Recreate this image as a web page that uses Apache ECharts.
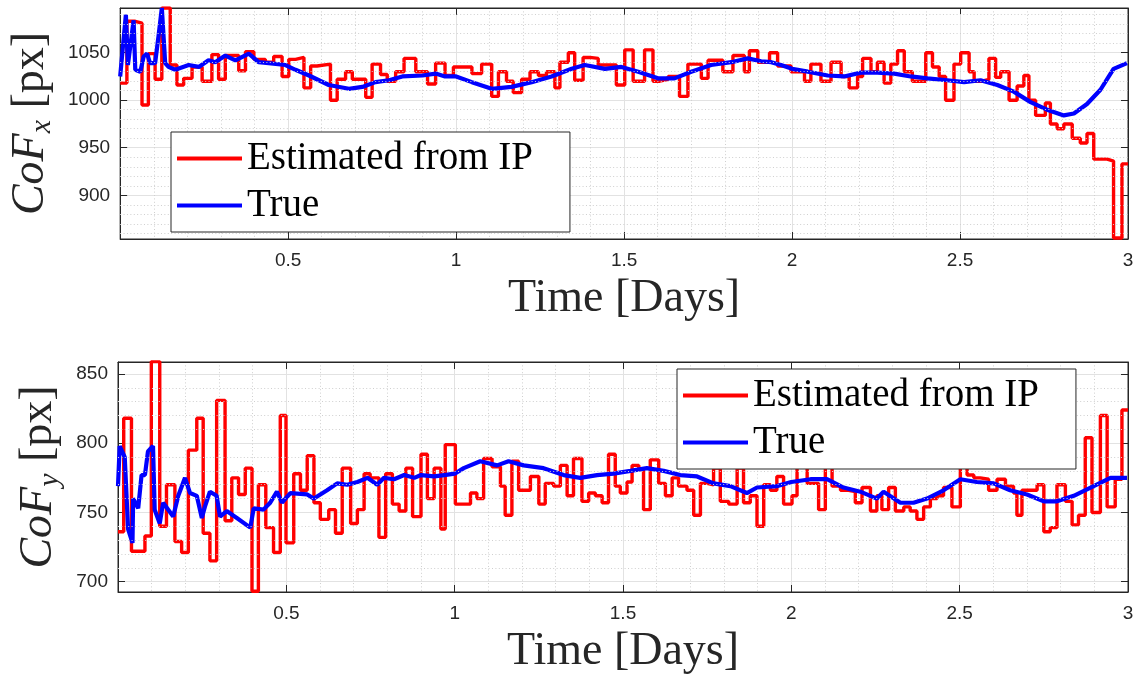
<!DOCTYPE html>
<html><head><meta charset="utf-8">
<script src="https://cdn.jsdelivr.net/npm/echarts@6/dist/echarts.min.js"></script>
<style>html,body{margin:0;padding:0;background:#fff}#c{width:1138px;height:677px}</style>
</head><body><div id="c"></div>
<script>
// ---------- data (days, px) ----------
const seriesNames = ['Estimated from IP', 'True'];
const xTickLabels = ['0.5', '1', '1.5', '2', '2.5', '3'];
const topYMinor = [860,870,880,890,910,920,930,940,960,970,980,990,1010,1020,1030,1040,1060,1070,1080,1090];
const botYMinor = [710,720,730,740,760,770,780,790,810,820,830,840];

// CoF_x estimated from IP (step: start time of each hold, value)
const topRed = [[0.000,1018],[0.020,1083],[0.045,1081],[0.065,995],[0.084,1049],[0.104,1022],[0.124,1097],[0.149,1037],[0.169,1016],[0.189,1023],[0.214,1035],[0.244,1020],[0.273,1048],[0.293,1022],[0.313,1047],[0.353,1031],[0.373,1051],[0.398,1043],[0.432,1040],[0.457,1046],[0.482,1025],[0.502,1043],[0.522,1045],[0.547,1013],[0.567,1036],[0.586,1038],[0.626,1000],[0.646,1022],[0.671,1030],[0.691,1022],[0.731,1003],[0.750,1038],[0.775,1027],[0.795,1020],[0.820,1030],[0.845,1044],[0.880,1030],[0.915,1017],[0.939,1039],[0.967,1026],[0.992,1035],[1.047,1028],[1.076,1038],[1.106,1004],[1.126,1030],[1.150,1020],[1.170,1008],[1.195,1022],[1.220,1030],[1.245,1026],[1.269,1030],[1.294,1013],[1.309,1040],[1.334,1050],[1.353,1021],[1.378,1045],[1.398,1044],[1.423,1037],[1.477,1016],[1.502,1053],[1.527,1020],[1.561,1053],[1.586,1020],[1.606,1022],[1.631,1025],[1.665,1004],[1.690,1038],[1.730,1023],[1.750,1042],[1.794,1030],[1.824,1047],[1.858,1030],[1.873,1052],[1.898,1040],[1.933,1050],[1.957,1036],[1.997,1030],[2.037,1020],[2.056,1038],[2.086,1020],[2.116,1040],[2.146,1025],[2.170,1013],[2.195,1025],[2.210,1044],[2.235,1030],[2.254,1040],[2.274,1018],[2.294,1038],[2.314,1052],[2.334,1030],[2.358,1020],[2.398,1050],[2.418,1035],[2.438,1025],[2.457,1000],[2.482,1038],[2.502,1050],[2.527,1030],[2.542,1020],[2.566,1022],[2.586,1044],[2.606,1024],[2.621,1030],[2.646,1000],[2.670,1015],[2.690,1026],[2.705,1000],[2.725,984],[2.754,997],[2.769,975],[2.789,970],[2.809,975],[2.834,960],[2.858,955],[2.878,965],[2.898,938],[2.938,936],[2.957,855],[2.982,933],[3.000,933]];

// CoF_x true
const topBlue = [[0.000,1025],[0.017,1090],[0.023,1037],[0.040,1084],[0.045,1032],[0.060,1030],[0.070,1046],[0.080,1049],[0.089,1039],[0.104,1039],[0.114,1067],[0.124,1097],[0.134,1039],[0.144,1035],[0.164,1032],[0.204,1037],[0.234,1035],[0.263,1042],[0.283,1040],[0.313,1047],[0.343,1042],[0.383,1049],[0.412,1040],[0.442,1039],[0.492,1037],[0.522,1032],[0.562,1026],[0.621,1016],[0.681,1012],[0.721,1014],[0.760,1019],[0.800,1021],[0.840,1025],[0.900,1026],[0.939,1028],[0.967,1025],[1.000,1025],[1.047,1019],[1.106,1012],[1.165,1014],[1.225,1019],[1.284,1025],[1.344,1033],[1.383,1037],[1.443,1033],[1.492,1035],[1.542,1030],[1.601,1023],[1.650,1023],[1.700,1030],[1.759,1037],[1.819,1040],[1.868,1044],[1.908,1041],[1.938,1040],[1.967,1037],[2.000,1033],[2.047,1030],[2.106,1026],[2.155,1025],[2.205,1029],[2.254,1029],[2.304,1028],[2.353,1025],[2.403,1023],[2.462,1021],[2.512,1019],[2.561,1021],[2.611,1016],[2.660,1009],[2.710,998],[2.759,990],[2.809,984],[2.839,986],[2.878,996],[2.918,1011],[2.957,1033],[2.997,1039]];

// CoF_y estimated from IP
const botRed = [[0.000,736],[0.017,818],[0.040,722],[0.080,733],[0.099,859],[0.124,740],[0.144,770],[0.169,729],[0.189,721],[0.209,795],[0.234,818],[0.253,735],[0.273,715],[0.293,831],[0.318,744],[0.338,775],[0.358,763],[0.378,782],[0.398,693],[0.417,770],[0.439,739],[0.462,721],[0.482,820],[0.499,728],[0.522,778],[0.542,766],[0.562,791],[0.582,757],[0.601,745],[0.626,752],[0.646,735],[0.666,782],[0.691,742],[0.711,752],[0.731,778],[0.749,775],[0.775,732],[0.795,778],[0.815,756],[0.835,751],[0.855,782],[0.875,747],[0.900,792],[0.919,760],[0.939,782],[0.959,738],[0.972,799],[1.002,756],[1.047,764],[1.066,760],[1.086,789],[1.111,783],[1.136,769],[1.150,748],[1.170,787],[1.190,766],[1.225,776],[1.250,756],[1.269,771],[1.294,769],[1.314,784],[1.334,762],[1.353,789],[1.378,758],[1.398,764],[1.418,762],[1.438,757],[1.457,792],[1.477,769],[1.492,764],[1.512,772],[1.527,784],[1.547,781],[1.561,752],[1.581,788],[1.606,771],[1.626,762],[1.646,775],[1.665,769],[1.690,766],[1.710,748],[1.730,771],[1.750,770],[1.769,782],[1.789,758],[1.814,756],[1.839,782],[1.858,757],[1.878,762],[1.898,740],[1.918,770],[1.938,766],[1.957,776],[1.977,756],[2.002,762],[2.017,795],[2.032,790],[2.047,771],[2.081,752],[2.101,795],[2.121,769],[2.146,766],[2.170,765],[2.190,757],[2.210,768],[2.235,751],[2.254,762],[2.269,752],[2.289,768],[2.309,751],[2.334,754],[2.353,751],[2.373,745],[2.393,754],[2.413,760],[2.433,762],[2.452,768],[2.477,754],[2.502,795],[2.522,777],[2.542,775],[2.561,774],[2.586,766],[2.611,774],[2.636,769],[2.660,764],[2.670,748],[2.685,766],[2.730,770],[2.750,736],[2.769,739],[2.789,770],[2.814,758],[2.834,741],[2.853,748],[2.873,804],[2.893,750],[2.918,820],[2.938,754],[2.962,774],[2.982,824],[3.000,824]];

// CoF_y true
const botBlue = [[0.000,769],[0.005,798],[0.020,790],[0.030,738],[0.043,728],[0.045,760],[0.060,753],[0.070,777],[0.080,777],[0.089,794],[0.104,798],[0.109,752],[0.124,742],[0.134,757],[0.164,747],[0.179,762],[0.199,775],[0.214,764],[0.234,762],[0.249,746],[0.258,754],[0.273,765],[0.293,762],[0.303,747],[0.323,751],[0.353,746],[0.393,739],[0.403,753],[0.432,752],[0.452,757],[0.472,765],[0.487,757],[0.512,764],[0.562,763],[0.582,760],[0.621,766],[0.651,771],[0.681,770],[0.711,772],[0.741,775],[0.770,770],[0.790,775],[0.820,774],[0.850,777],[0.880,775],[0.900,777],[0.939,776],[0.969,777],[1.000,778],[1.027,782],[1.076,787],[1.126,784],[1.160,787],[1.205,784],[1.264,782],[1.324,777],[1.373,775],[1.423,777],[1.472,778],[1.522,780],[1.571,782],[1.621,780],[1.670,777],[1.720,776],[1.769,771],[1.819,769],[1.868,764],[1.898,768],[1.957,769],[2.000,772],[2.057,774],[2.106,774],[2.155,768],[2.205,765],[2.254,760],[2.274,765],[2.324,757],[2.363,757],[2.403,760],[2.452,766],[2.502,774],[2.551,772],[2.601,771],[2.650,766],[2.700,763],[2.750,758],[2.789,758],[2.839,762],[2.898,769],[2.948,775],[2.997,775]];

// ---------- chart ----------
const DARK = '#262626';
const SERIF = '"Liberation Serif", "Times New Roman", serif';
const SANS = '"Liberation Sans", Arial, Helvetica, sans-serif';
const MINOR = {color: '#cfcfcf', width: 1, type: [1, 2.4]};
const chart = echarts.init(document.getElementById('c'), null, {renderer: 'canvas'});

const grids = [
  {left: 118, top: 8, width: 1010, height: 231},
  {left: 118, top: 362, width: 1010, height: 230}
];
const yRanges = [{min: 854, max: 1097, split: 5}, {min: 692.5, max: 858.7, split: 3}];
const yNames = ['{i|CoF}{s|x}{r| [px]}', '{i|CoF}{s|y}{r| [px]}'];
const yNameGaps = [55, 42];
const minors = [topYMinor, botYMinor];

function xAxes(g) {
  const base = {gridIndex: g, type: 'value', min: 0, max: 3, interval: 0.5};
  return [
    Object.assign({}, base, {
      position: 'bottom',
      axisLine: {show: true, onZero: false, lineStyle: {color: DARK, width: 1}},
      axisTick: {show: true, inside: true, length: 7, lineStyle: {color: DARK}},
      axisLabel: {show: true, margin: 12, fontSize: 19, color: DARK, fontFamily: SANS,
        formatter: function (v) { const s = xTickLabels.find(t => Math.abs(parseFloat(t) - v) < 1e-6); return s || ''; }},
      splitLine: {show: true, lineStyle: {color: '#e2e2e2', width: 1}},
      minorTick: {show: false, splitNumber: 5},
      minorSplitLine: {show: true, lineStyle: MINOR},
      name: 'Time [Days]', nameLocation: 'middle', nameGap: 37,
      nameTextStyle: {fontFamily: SERIF, fontSize: 46, color: DARK}
    }),
    Object.assign({}, base, {
      position: 'top',
      axisLine: {show: true, onZero: false, lineStyle: {color: DARK, width: 1}},
      axisTick: {show: true, inside: true, length: 7, lineStyle: {color: DARK}},
      axisLabel: {show: false},
      splitLine: {show: false}
    })
  ];
}
function yAxes(g) {
  const r = yRanges[g];
  const base = {gridIndex: g, type: 'value', min: r.min, max: r.max, splitNumber: r.split};
  return [
    Object.assign({}, base, {
      position: 'left',
      axisLine: {show: true, onZero: false, lineStyle: {color: DARK, width: 1}},
      axisTick: {show: true, inside: true, length: 7, lineStyle: {color: DARK}},
      axisLabel: {show: true, showMinLabel: false, showMaxLabel: false, margin: 10, fontSize: 19, color: DARK, fontFamily: SANS,
        formatter: function (v) { return String(Math.round(v)); }},
      splitLine: {show: true, lineStyle: {color: '#e2e2e2', width: 1}},
      name: yNames[g], nameLocation: 'middle', nameRotate: 90, nameGap: yNameGaps[g],
      nameTextStyle: {rich: {
        i: {fontFamily: SERIF, fontStyle: 'italic', fontSize: 46, color: DARK, lineHeight: 52},
        s: {fontFamily: SERIF, fontStyle: 'italic', fontSize: 30, color: DARK, lineHeight: 20, verticalAlign: 'bottom'},
        r: {fontFamily: SERIF, fontSize: 46, color: DARK, lineHeight: 52}
      }}
    }),
    Object.assign({}, base, {
      position: 'right',
      axisLine: {show: true, onZero: false, lineStyle: {color: DARK, width: 1}},
      axisTick: {show: true, inside: true, length: 7, lineStyle: {color: DARK}},
      axisLabel: {show: false},
      splitLine: {show: false}
    })
  ];
}

const series = [];
[[topRed, topBlue], [botRed, botBlue]].forEach(function (pair, g) {
  series.push({
    type: 'line', xAxisIndex: 2 * g, yAxisIndex: 2 * g, data: [], silent: true,
    markLine: {silent: true, symbol: ['none', 'none'], label: {show: false}, animation: false,
      lineStyle: MINOR, data: minors[g].map(v => ({yAxis: v}))}
  });
  series.push({
    name: seriesNames[0], type: 'line', step: 'end', xAxisIndex: 2 * g, yAxisIndex: 2 * g,
    data: pair[0], showSymbol: false, symbol: 'none', color: '#ff0000',
    lineStyle: {color: '#ff0000', width: 3.4}, clip: true, z: 3
  });
  series.push({
    name: seriesNames[1], type: 'line', xAxisIndex: 2 * g, yAxisIndex: 2 * g,
    data: pair[1], showSymbol: false, symbol: 'none', color: '#0000ff',
    lineStyle: {color: '#0000ff', width: 4.2}, clip: true, z: 4
  });
});

function legend(left, top) {
  return {
    left: left, top: top, orient: 'vertical', data: seriesNames, selectedMode: false,
    icon: 'rect', itemWidth: 65, itemHeight: 4, itemGap: 8,
    padding: [7, 37, 7, 6], backgroundColor: '#fff', borderColor: DARK, borderWidth: 1,
    textStyle: {fontFamily: SERIF, fontSize: 39, color: '#000'}, z: 10
  };
}

chart.setOption({
  animation: false,
  backgroundColor: '#fff',
  grid: grids.map(g => Object.assign({show: true, borderColor: DARK, borderWidth: 1, backgroundColor: '#fff', containLabel: false}, g)),
  xAxis: xAxes(0).concat(xAxes(1)),
  yAxis: yAxes(0).concat(yAxes(1)),
  legend: [legend(171, 132), legend(677, 369)],
  series: series
});
</script>
</body></html>
